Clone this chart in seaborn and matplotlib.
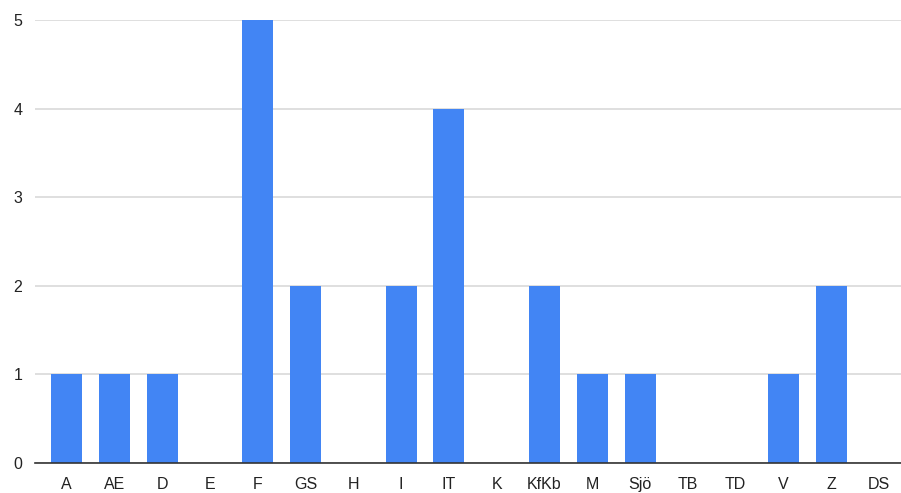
import numpy as np
import pandas as pd
import matplotlib
matplotlib.use("Agg")
import matplotlib.pyplot as plt
import seaborn as sns

# Daten
categories = ["A", "AE", "D", "E", "F", "GS", "H", "I", "IT", "K",
              "KfKb", "M", "Sjö", "TB", "TD", "V", "Z", "DS"]
values = [1, 1, 1, 0, 5, 2, 0, 2, 4, 0, 2, 1, 1, 0, 0, 1, 2, 0]

df = pd.DataFrame({"kategorie": categories, "anzahl": values})

sns.set_style("white")
plt.rcParams["font.family"] = ["Liberation Sans", "DejaVu Sans"]

fig = plt.figure(figsize=(9.01, 4.93), dpi=100)
ax = fig.add_axes([35 / 901, 30 / 493, 866 / 901, 443 / 493])

sns.barplot(data=df, x="kategorie", y="anzahl", color="#4285f4",
            saturation=1, width=0.65, linewidth=0, ax=ax, zorder=3)

ax.set_xlim(-0.66, 17.46)
ax.set_ylim(0, 5)
ax.set_yticks(range(0, 6))
ax.yaxis.grid(True, color="#d9d9d9", linewidth=1.2, zorder=0)
ax.set_axisbelow(True)

for side in ["top", "right", "left"]:
    ax.spines[side].set_visible(False)
ax.spines["bottom"].set_color("#333333")
ax.spines["bottom"].set_linewidth(1.2)
ax.spines["bottom"].set_zorder(4)

ax.tick_params(axis="x", length=0, pad=10, labelsize=11.5, colors="#222222")
ax.tick_params(axis="y", length=0, pad=9, labelsize=11.5, colors="#222222")
ax.set_xlabel("")
ax.set_ylabel("")

fig.savefig("out.png", dpi=100)
